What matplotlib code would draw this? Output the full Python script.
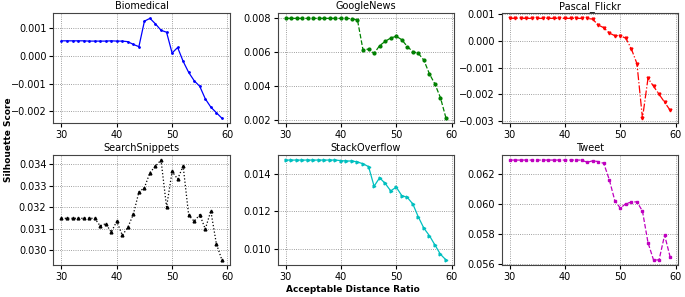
import numpy as np
import matplotlib.pyplot as plt
from matplotlib.ticker import MultipleLocator

# 可接受距离比例
ratio = list(range(30, 60))

biomedical = [0.00054] * 5 + [0.00053] * 4 + [0.00054, 0.00053, 0.00053, 0.00051, 0.00041, 0.00033,
              0.00125, 0.00135, 0.00115, 0.00092, 0.00085, 0.0001, 0.0003, -0.0002, -0.0006,
              -0.0009, -0.0011, -0.00155, -0.00185, -0.00205, -0.00225]
google_news = [0.00795] * 12 + [0.00793, 0.00785, 0.0061, 0.00615, 0.0059, 0.00635, 0.0066,
               0.0068, 0.0069, 0.0067, 0.0063, 0.0060, 0.0059, 0.0055, 0.0047, 0.0041,
               0.0033, 0.0021]
pascal_flickr = [0.00085] * 15 + [0.00082, 0.0006, 0.0005, 0.0003, 0.0002, 0.0002, 0.0001,
                 -0.0003, -0.00085, -0.0029, -0.0014, -0.0017, -0.002, -0.0023, -0.0026]
search_snippets = [0.03148] * 7 + [0.03113, 0.03123, 0.03084, 0.03134, 0.03069, 0.03106,
                   0.03167, 0.0327, 0.0329, 0.0336, 0.0339, 0.03418, 0.0320, 0.03365,
                   0.0333, 0.0339, 0.03162, 0.03134, 0.03165, 0.03098, 0.03182, 0.0303,
                   0.02955]
stack_overflow = [0.01475] * 10 + [0.01472, 0.0147, 0.0147, 0.01465, 0.01455, 0.0144,
                  0.01335, 0.0138, 0.0135, 0.0131, 0.0133, 0.01285, 0.01275, 0.0124,
                  0.0117, 0.0111, 0.0107, 0.0102, 0.0097, 0.0094]
tweet = [0.0629] * 14 + [0.06275, 0.06285, 0.0628, 0.06268, 0.0616, 0.0602, 0.0597,
         0.0600, 0.0601, 0.06012, 0.0595, 0.0574, 0.05625, 0.05625, 0.0579, 0.05645]

datasets = ['Biomedical', 'GoogleNews', 'Pascal_Flickr', 'SearchSnippets', 'StackOverflow', 'Tweet']
scores = [biomedical, google_news, pascal_flickr, search_snippets, stack_overflow, tweet]
styles = [('b', '-', '.'), ('g', '--', 'o'), ('r', '-.', 'v'),
          ('k', ':', '^'), ('c', '-', '>'), ('m', '--', 's')]
ystep = [0.001, 0.002, 0.001, 0.001, 0.002, 0.002]

fig, axes = plt.subplots(2, 3, figsize=(6.85, 2.97), dpi=100)
plt.subplots_adjust(left=0.078, right=0.99, top=0.955, bottom=0.108, wspace=0.27, hspace=0.29)

for ax, name, y, (c, ls, mk), st in zip(axes.flat, datasets, scores, styles, ystep):
    ax.plot(ratio, y, color=c, linestyle=ls, marker=mk, markersize=2, linewidth=0.9)
    ax.set_title(name, fontsize=7, pad=3)
    ax.grid(True, linestyle=':', color='gray', linewidth=0.6)
    ax.set_xticks([30, 40, 50, 60])
    ax.yaxis.set_major_locator(MultipleLocator(st))
    ax.tick_params(labelsize=7, pad=2, length=3)
    for sp in ax.spines.values():
        sp.set_color('#444444')

fig.text(0.012, 0.53, 'Silhouette Score', rotation=90, va='center', ha='center',
         fontsize=6.5, fontweight='bold')
fig.text(0.515, 0.025, 'Acceptable Distance Ratio', ha='center', va='center',
         fontsize=6.5, fontweight='bold')

plt.savefig('out.png', dpi=100)
